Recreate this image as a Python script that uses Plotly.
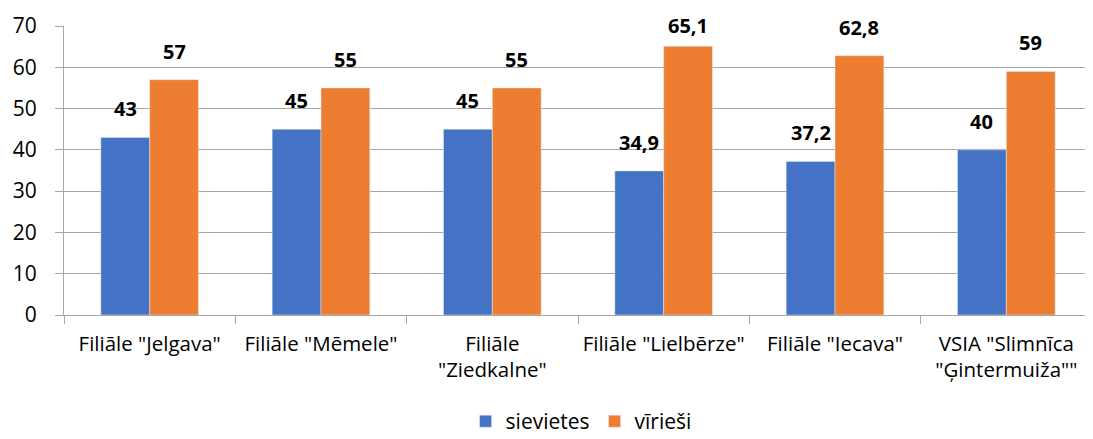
import plotly.graph_objects as go

categories = [
    'Filiāle "Jelgava"',
    'Filiāle "Mēmele"',
    'Filiāle<br>"Ziedkalne"',
    'Filiāle "Lielbērze"',
    'Filiāle "Iecava"',
    'VSIA "Slimnīca<br>"Ģintermuiža""',
]
sievietes = [43, 45, 45, 34.9, 37.2, 40]
virieshi = [57, 55, 55, 65.1, 62.8, 59]

BLUE = "#4472C4"
ORANGE = "#ED7D31"
FONT = "'Open Sans', 'Noto Sans', sans-serif"
BARGAP = 0.43
Y_MAX = 70
HEIGHT = 439
MARGIN_T, MARGIN_B = 18, 132


def fmt(v):
    # latviešu decimālkomats
    return f"{v:g}".replace(".", ",")


fig = go.Figure()
fig.add_trace(go.Bar(x=categories, y=sievietes, name="sievietes", marker_color=BLUE))
fig.add_trace(go.Bar(x=categories, y=virieshi, name="vīrieši", marker_color=ORANGE))

# vērtību etiķetes virs stabiņiem (kā Excel - netiek ārā pāri augšējai malai)
half = (1 - BARGAP) / 4
px_per_unit = (HEIGHT - MARGIN_T - MARGIN_B) / Y_MAX
for i in range(len(categories)):
    for offset, vals in ((-half, sievietes), (half, virieshi)):
        v = vals[i]
        room = (Y_MAX - v) * px_per_unit + MARGIN_T - 33
        fig.add_annotation(
            x=i + offset,
            y=v,
            text=f"<b>{fmt(v)}</b>",
            showarrow=False,
            yanchor="bottom",
            yshift=min(13, room),
            font=dict(size=20, color="#000000", family=FONT),
        )

# NOTE: lapas body ir 8px atkāpe, tāpēc malas ir nobīdītas
fig.update_layout(
    width=1093,
    height=HEIGHT,
    barmode="group",
    bargap=BARGAP,
    bargroupgap=0,
    plot_bgcolor="white",
    paper_bgcolor="white",
    font=dict(family=FONT, size=19, color="#000000"),
    margin=dict(l=56, r=9, t=MARGIN_T, b=MARGIN_B, autoexpand=False),
    showlegend=True,
    legend=dict(
        orientation="h",
        x=0.503,
        xanchor="center",
        yref="container",
        y=0.058,
        yanchor="middle",
        font=dict(size=21),
        itemwidth=30,
        traceorder="normal",
    ),
)

fig.update_xaxes(
    tickson="boundaries",
    ticks="outside",
    ticklen=8,
    tickcolor="#A6A6A6",
    showline=True,
    linecolor="#A6A6A6",
    showgrid=False,
    automargin=False,
    ticklabelstandoff=10,
    tickfont=dict(size=20.5),
)
fig.update_yaxes(
    range=[0, Y_MAX],
    dtick=10,
    ticks="outside",
    ticklen=8,
    tickcolor="#A6A6A6",
    showline=True,
    linecolor="#A6A6A6",
    gridcolor="#A6A6A6",
    zeroline=False,
    automargin=False,
    ticklabelstandoff=14,
    tickfont=dict(size=21),
)

fig.write_html("out.html")
